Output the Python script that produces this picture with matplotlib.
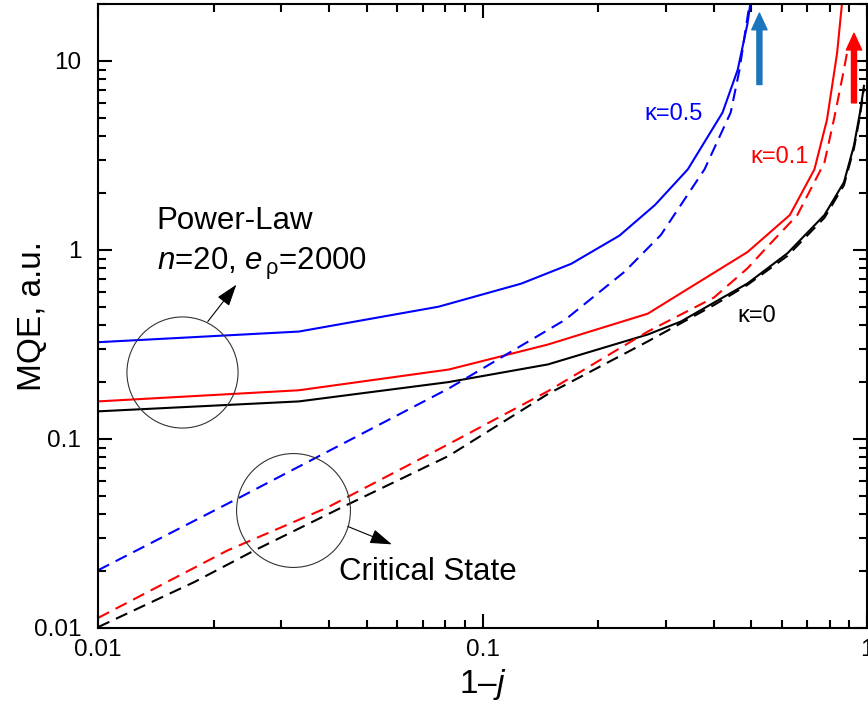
"""
MQE против 1-j: степенной закон и критическое состояние.
"""

import matplotlib
matplotlib.use("Agg")
import matplotlib.pyplot as plt
from matplotlib.ticker import FixedLocator, LogLocator, NullFormatter

plt.rcParams["font.family"] = ["Liberation Sans", "DejaVu Sans"]
plt.rcParams["mathtext.fontset"] = "custom"
plt.rcParams["mathtext.rm"] = "Liberation Sans"
plt.rcParams["mathtext.it"] = "Liberation Sans:italic"

# Power-Law (сплошные линии)
pl_k0_x = [0.01, 0.0333, 0.0817, 0.148, 0.269, 0.328, 0.489, 0.621, 0.775, 0.871, 0.925, 0.959, 0.982]
pl_k0_y = [0.140, 0.158, 0.200, 0.248, 0.357, 0.418, 0.665, 0.96, 1.53, 2.28, 3.57, 5.33, 7.38]

pl_k01_x = [0.01, 0.0333, 0.0817, 0.148, 0.269, 0.489, 0.630, 0.730, 0.787, 0.836, 0.861]
pl_k01_y = [0.158, 0.181, 0.233, 0.316, 0.460, 0.975, 1.53, 2.67, 4.89, 11.0, 20.2]

pl_k05_x = [0.01, 0.0333, 0.0769, 0.126, 0.170, 0.227, 0.281, 0.342, 0.421, 0.461, 0.489, 0.497]
pl_k05_y = [0.325, 0.370, 0.501, 0.663, 0.844, 1.19, 1.73, 2.67, 5.33, 8.97, 15.8, 20.0]

# Critical State (пунктир)
cs_k0_x = [0.01, 0.0178, 0.0255, 0.043, 0.0817, 0.148, 0.269, 0.402, 0.489, 0.621, 0.775, 0.871, 0.925, 0.96, 0.982]
cs_k0_y = [0.0101, 0.0175, 0.0257, 0.0434, 0.0814, 0.173, 0.328, 0.514, 0.654, 0.93, 1.48, 2.2, 3.45, 5.2, 7.2]

cs_k01_x = [0.01, 0.0217, 0.0395, 0.0817, 0.148, 0.269, 0.400, 0.489, 0.541, 0.659, 0.775, 0.822, 0.871, 0.887]
cs_k01_y = [0.0113, 0.0257, 0.0434, 0.094, 0.179, 0.370, 0.56, 0.80, 1.0, 1.53, 2.90, 5.0, 9.0, 11.0]

cs_k05_x = [0.01, 0.0233, 0.0817, 0.164, 0.234, 0.291, 0.378, 0.442, 0.466, 0.486, 0.495]
cs_k05_y = [0.0202, 0.0489, 0.185, 0.427, 0.766, 1.2, 2.67, 5.33, 8.97, 15.8, 20.0]

x_ticks = [0.01, 0.1, 1]
x_tick_labels = ["0.01", "0.1", "1"]
y_ticks = [0.01, 0.1, 1, 10]
y_tick_labels = ["0.01", "0.1", "1", "10"]

fig = plt.figure(figsize=(8.68, 7.17), dpi=100)
ax = fig.add_axes([98 / 868, 89 / 717, 769 / 868, 624 / 717])

lw = 1.5
dash = (6, 3.5)
ax.plot(pl_k0_x, pl_k0_y, color="black", lw=lw)
ax.plot(pl_k01_x, pl_k01_y, color="#ff0000", lw=lw)
ax.plot(pl_k05_x, pl_k05_y, color="#0000ff", lw=lw)
ax.plot(cs_k0_x, cs_k0_y, color="black", lw=lw, dashes=dash)
ax.plot(cs_k01_x, cs_k01_y, color="#ff0000", lw=lw, dashes=dash)
ax.plot(cs_k05_x, cs_k05_y, color="#0000ff", lw=lw, dashes=dash)

ax.set_xscale("log")
ax.set_yscale("log")
ax.set_xlim(0.01, 1)
ax.set_ylim(0.01, 20)

ax.xaxis.set_major_locator(FixedLocator(x_ticks))
ax.set_xticklabels(x_tick_labels)
ax.yaxis.set_major_locator(FixedLocator(y_ticks))
ax.set_yticklabels(y_tick_labels)
ax.xaxis.set_minor_locator(LogLocator(base=10, subs=range(2, 10)))
ax.yaxis.set_minor_locator(LogLocator(base=10, subs=range(2, 10)))
ax.xaxis.set_minor_formatter(NullFormatter())
ax.yaxis.set_minor_formatter(NullFormatter())

ax.tick_params(which="both", direction="in", top=True, right=True, width=1.5)
ax.tick_params(which="major", length=10)
ax.tick_params(which="minor", length=6)
ax.tick_params(axis="x", labelsize=17.5, pad=8)
ax.tick_params(axis="y", labelsize=17.5, pad=12)
for sp in ax.spines.values():
    sp.set_linewidth(1.5)

ax.set_xlabel(r"1–$\mathit{j}$", fontsize=24, labelpad=4)
ax.set_ylabel("MQE, a.u.", fontsize=24)
ax.yaxis.set_label_coords(-0.065, 0.5)

# подписи кривых
ax.text(0.264, 4.89, "κ=0.5", color="#0000ff", fontsize=17)
ax.text(0.498, 2.90, "κ=0.1", color="#ff0000", fontsize=17)
ax.text(0.460, 0.418, "κ=0", color="black", fontsize=17)

# круги и стрелки
ax.plot([0.0165], [0.225], "o", ms=80, mfc="none", mec="#333333", mew=0.8)
ax.plot([0.0322], [0.0423], "o", ms=82, mfc="none", mec="#333333", mew=0.8)
arrow_style = dict(arrowstyle="-|>,head_length=0.9,head_width=0.3",
                   color="black", lw=0.8, mutation_scale=15,
                   shrinkA=0, shrinkB=0)
ax.annotate("", xy=(0.0229, 0.655), xytext=(0.0193, 0.418), arrowprops=arrow_style)
ax.annotate("", xy=(0.0581, 0.0277), xytext=(0.0447, 0.0344), arrowprops=arrow_style)

ax.text(0.0142, 1.29, "Power-Law", fontsize=22.5)
ax.text(0.0142, 0.785, r"$\mathit{n}$=20, $\mathit{e}_{\,\mathrm{\rho}}$=2000", fontsize=22.5)
ax.text(0.0423, 0.0179, "Critical State", fontsize=22.5)

# вертикальные стрелки
ax.annotate("", xy=(0.525, 17.9), xytext=(0.525, 7.5),
            arrowprops=dict(facecolor="#1a75bc", edgecolor="#1a75bc",
                            width=3.6, headwidth=11, headlength=12))
ax.annotate("", xy=(0.925, 14.0), xytext=(0.925, 6.0),
            arrowprops=dict(facecolor="#ff0000", edgecolor="#ff0000",
                            width=3.6, headwidth=11, headlength=12))

fig.savefig("out.png", dpi=100)
